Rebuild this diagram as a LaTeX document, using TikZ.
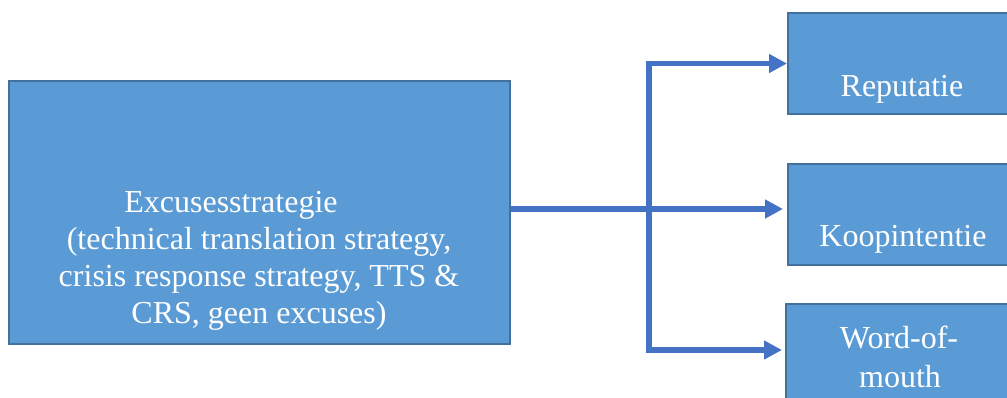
\documentclass[tikz,border=0pt]{standalone}
\usepackage{fontspec}
\setmainfont{Liberation Serif}
\usetikzlibrary{arrows.meta}
\definecolor{boxfill}{HTML}{5B9BD5}
\definecolor{boxline}{HTML}{41719C}
\definecolor{arrcol}{HTML}{4472C4}
\tikzset{
  bluebox/.style={draw=boxline, line width=2pt, fill=boxfill, inner sep=0pt, minimum width=#1},
  boxtext/.style={text=white, font=\fontsize{32}{37}\selectfont, anchor=base, inner sep=0pt},
  conn/.style={draw=arrcol, line width=5.5pt, -{Triangle[length=18pt,width=18pt]}},
  plainline/.style={draw=arrcol, line width=5.5pt, line cap=rect}
}
\begin{document}
\begin{tikzpicture}[x=1pt,y=-1pt]
\useasboundingbox (0,0) rectangle (1007,398);
\clip (0,0) rectangle (1007,398);
% boxes
\node[bluebox=501pt, minimum height=263pt] (main) at (259.5,212.5) {};
\node[bluebox=228pt, minimum height=101pt] (rep) at (902,63.5) {};
\node[bluebox=228pt, minimum height=101pt] (koop) at (902,214.5) {};
\node[bluebox=228pt, minimum height=101pt] (wom) at (900,354.5) {};
% texts
\node[boxtext] (m1) at (231,213) {Excusesstrategie};
\node[boxtext] (m2) at (259,250) {(technical translation strategy,};
\node[boxtext] (m3) at (259,287) {crisis response strategy, TTS \&};
\node[boxtext] (m4) at (259,323) {CRS, geen excuses)};
\node[boxtext] (t1) at (902,97) {Reputatie};
\node[boxtext] (t2) at (903,247) {Koopintentie};
\node[boxtext] (t3) at (899,348) {Word-of-};
\node[boxtext] (t4) at (900,387) {mouth};
% connectors
\coordinate (j) at (649,209);
\coordinate (ms) at ([yshift=3.5pt]main.east);
\coordinate (ke) at ([yshift=5.5pt]koop.west);
\coordinate (wa) at ([yshift=4.5pt]wom.west);
\draw[conn, shorten >=4pt] (ms) -- (ke);
\draw[conn] (j |- rep.west) -- (rep.west);
\draw[conn, shorten >=3pt] (j |- wa) -- (wa);
\draw[plainline] (j |- rep.west) -- (j |- wa);
\end{tikzpicture}
\end{document}
